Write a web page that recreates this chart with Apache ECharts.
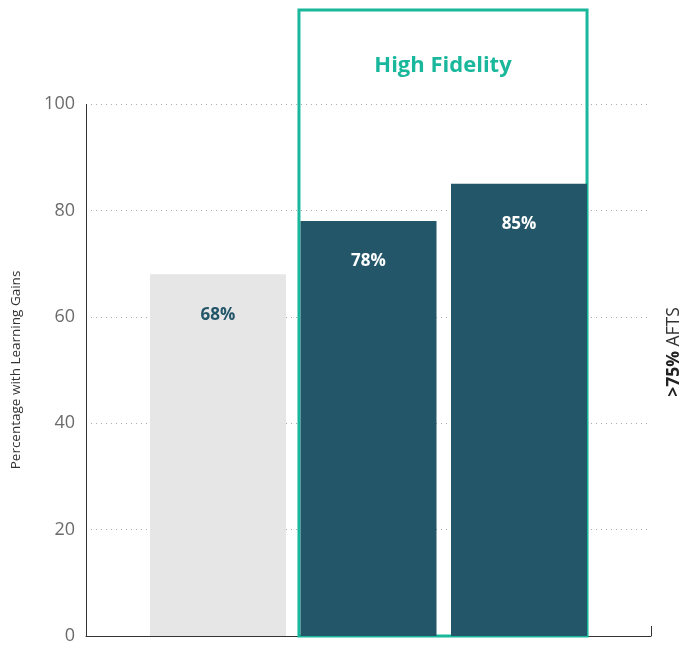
<!DOCTYPE html>
<html><head><meta charset="utf-8">
<script src="https://cdn.jsdelivr.net/npm/echarts@6/dist/echarts.min.js"></script>
<style>html,body{margin:0;padding:0;background:#fff}#c{width:681px;height:647px}</style>
</head><body><div id="c"></div>
<script>
const groupPositions = [0, 1, 2];
const values = [68, 78, 85];
const barColors = ['#e6e6e6', '#235669', '#235669'];
const labelColors = ['#235669', '#ffffff', '#ffffff'];
const yTicks = [0, 20, 40, 60, 80, 100];
const highlightRange = [0.538, 2.452];
const highlightLabel = 'High Fidelity';
const yAxisTitle = 'Percentage with Learning Gains';
const sideTitleBold = '>75%';
const sideTitleRest = ' AFTS';

const FONT = '"Open Sans", "Noto Sans", sans-serif';
const TEAL = '#19b89c';
const xMin = -0.877, xMax = 2.877;
const yTop = 117.67; // room above the 100 line for the highlight frame

const chart = echarts.init(document.getElementById('c'));
chart.setOption({
  animation: false,
  textStyle: { fontFamily: FONT },
  grid: { left: 86, right: 30, top: 10, bottom: 11, containLabel: false, outerBoundsMode: 'none' },
  xAxis: {
    type: 'value', min: xMin, max: xMax, interval: xMax - xMin,
    axisLine: { show: true, onZero: false, lineStyle: { color: '#333', width: 1 } },
    axisTick: { show: true, inside: true, length: 10, lineStyle: { color: '#333' } },
    axisLabel: { show: false },
    splitLine: { show: false }
  },
  yAxis: [{
    type: 'value', min: yTicks[0], max: yTop, interval: yTicks[1] - yTicks[0],
    axisLine: { show: false, onZero: false },
    axisTick: { show: false },
    axisLabel: { color: '#6b6b6b', fontSize: 18, margin: 11, fontFamily: FONT, showMaxLabel: false },
    splitLine: { show: true, showMaxLine: false, showMinLine: false, lineStyle: { type: [1, 4], color: '#aaa', width: 1 } },
    name: yAxisTitle, nameLocation: 'middle', nameGap: 63, nameRotate: 90,
    nameTextStyle: { color: '#333', fontSize: 13.5, fontFamily: FONT, padding: [0, 94, 0, 0] }
  }, {
    type: 'value', position: 'right', min: 0, max: yTop,
    axisLine: { show: false }, axisTick: { show: false }, axisLabel: { show: false },
    splitLine: { show: false },
    name: '{b|' + sideTitleBold + '}{r|' + sideTitleRest + '}',
    nameLocation: 'middle', nameGap: 14, nameRotate: 90,
    nameTextStyle: {
      padding: [0, 58, 0, 0],
      rich: {
        b: { fontWeight: 'bold', fontSize: 17.5, color: '#222', fontFamily: FONT },
        r: { fontSize: 17.5, color: '#333', fontFamily: FONT }
      }
    }
  }],
  series: [{
    type: 'bar',
    clip: false,
    barWidth: 136,
    data: values.map((v, i) => ({
      value: [groupPositions[i], v],
      itemStyle: { color: barColors[i] },
      label: { color: labelColors[i] }
    })),
    label: {
      show: true, position: 'insideTop', distance: 32,
      fontSize: 17, fontWeight: 'bold', fontFamily: FONT,
      formatter: p => p.value[1] + '%'
    },
    markLine: {
      silent: true, symbol: 'none', animation: false,
      lineStyle: { color: '#333', width: 1, type: 'solid' },
      label: { show: false },
      data: [[
        { xAxis: xMin, yAxis: yTicks[0] },
        { xAxis: xMin, yAxis: yTicks[yTicks.length - 1] }
      ]]
    },
    markArea: {
      silent: true,
      itemStyle: { color: 'rgba(0,0,0,0)', borderColor: TEAL, borderWidth: 3 },
      label: {
        show: true, position: 'insideTop', distance: 46,
        color: TEAL, fontSize: 22, fontWeight: 'bold', fontFamily: FONT
      },
      data: [[
        { name: highlightLabel, xAxis: highlightRange[0], yAxis: 0 },
        { xAxis: highlightRange[1], yAxis: yTop }
      ]]
    }
  }]
});
</script></body></html>
